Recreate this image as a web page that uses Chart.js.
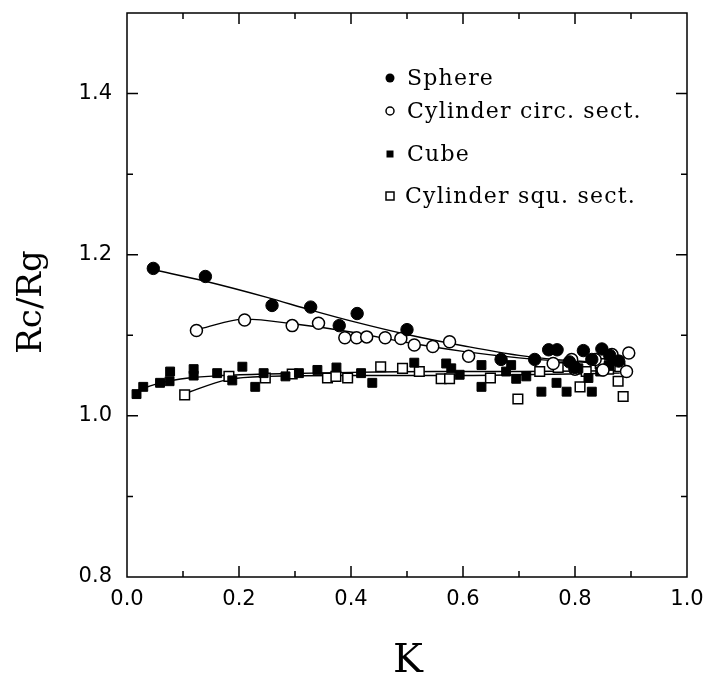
<!DOCTYPE html>
<html>
<head>
<meta charset="utf-8">
<script src="https://cdn.jsdelivr.net/npm/chart.js@4.4.1/dist/chart.umd.min.js"></script>
<style>
  body { margin: 0; background: #fff; }
  #wrap { width: 706px; height: 675px; }
</style>
</head>
<body>
<div id="wrap"><canvas id="myChart"></canvas></div>
<script>
// measured points, K vs Rc/Rg
var sphereK = [0.047, 0.140, 0.259, 0.328, 0.379, 0.411, 0.500, 0.668, 0.728, 0.753, 0.768, 0.790, 0.815, 0.830, 0.848, 0.862, 0.878, 0.800];
var sphereR = [1.183, 1.173, 1.137, 1.135, 1.112, 1.127, 1.107, 1.070, 1.070, 1.082, 1.082, 1.067, 1.081, 1.070, 1.083, 1.075, 1.068, 1.060];

var circK = [0.124, 0.210, 0.295, 0.342, 0.389, 0.410, 0.428, 0.461, 0.489, 0.513, 0.546, 0.576, 0.610, 0.761, 0.794, 0.800, 0.836, 0.850, 0.866, 0.892, 0.896];
var circR = [1.106, 1.119, 1.112, 1.115, 1.097, 1.097, 1.098, 1.097, 1.096, 1.088, 1.086, 1.092, 1.074, 1.065, 1.070, 1.058, 1.070, 1.057, 1.076, 1.055, 1.078];

var cubeK = [0.017, 0.029, 0.059, 0.076, 0.077, 0.119, 0.119, 0.161, 0.188, 0.206, 0.229, 0.244, 0.283, 0.307, 0.340, 0.374, 0.418, 0.438, 0.513, 0.570, 0.579, 0.594, 0.633, 0.633, 0.677, 0.686, 0.695, 0.713, 0.740, 0.767, 0.785, 0.806, 0.824, 0.830, 0.845, 0.860];
var cubeR = [1.027, 1.036, 1.041, 1.043, 1.055, 1.050, 1.058, 1.053, 1.044, 1.061, 1.036, 1.053, 1.049, 1.053, 1.057, 1.060, 1.053, 1.041, 1.066, 1.065, 1.059, 1.051, 1.063, 1.036, 1.055, 1.063, 1.046, 1.049, 1.030, 1.041, 1.030, 1.059, 1.047, 1.030, 1.055, 1.062];

var squK = [0.103, 0.182, 0.247, 0.295, 0.358, 0.373, 0.394, 0.453, 0.492, 0.522, 0.561, 0.576, 0.649, 0.698, 0.737, 0.770, 0.809, 0.820, 0.845, 0.860, 0.877, 0.880, 0.886];
var squR = [1.026, 1.049, 1.047, 1.052, 1.047, 1.049, 1.047, 1.061, 1.059, 1.055, 1.046, 1.046, 1.047, 1.021, 1.055, 1.060, 1.036, 1.055, 1.065, 1.058, 1.043, 1.061, 1.024];

// fitted curves
var sphereFitK = [0.05, 0.14, 0.25, 0.33, 0.41, 0.50, 0.60, 0.70, 0.80, 0.88];
var sphereFitR = [1.181, 1.167, 1.147, 1.131, 1.116, 1.101, 1.087, 1.075, 1.068, 1.066];
var circFitK = [0.13, 0.21, 0.30, 0.40, 0.50, 0.60, 0.70, 0.80, 0.89];
var circFitR = [1.108, 1.120, 1.114, 1.104, 1.091, 1.080, 1.072, 1.067, 1.064];
var cubeFitK = [0.02, 0.06, 0.11, 0.17, 0.25, 0.40, 0.55, 0.70, 0.88];
var cubeFitR = [1.032, 1.041, 1.047, 1.050, 1.052, 1.054, 1.055, 1.055, 1.056];
var squFitK = [0.10, 0.18, 0.25, 0.40, 0.55, 0.70, 0.88];
var squFitR = [1.027, 1.045, 1.049, 1.050, 1.050, 1.051, 1.053];

var legendLabels = ["Sphere", "Cylinder circ. sect.", "Cube", "Cylinder squ. sect."];

function pts(xs, ys) {
  return xs.map(function (k, i) { return { x: k, y: ys[i] }; });
}

function fitLine(xs, ys) {
  return {
    data: pts(xs, ys),
    showLine: true,
    pointRadius: 0,
    borderColor: "#000",
    borderWidth: 1.4,
    cubicInterpolationMode: "monotone",
    fill: false,
  };
}

function noPad(s) {
  s.paddingTop = 0;
  s.paddingBottom = 0;
  s.paddingLeft = 0;
  s.paddingRight = 0;
}

var frame = {
  id: "frame",
  afterDatasetsDraw: function (chart) {
    var ctx = chart.ctx;
    var a = chart.chartArea;
    var x = chart.scales.x;
    var y = chart.scales.y;
    ctx.save();
    ctx.strokeStyle = "#000";
    ctx.lineWidth = 1.5;
    ctx.strokeRect(a.left, a.top, a.right - a.left, a.bottom - a.top);

    ctx.beginPath();
    for (var i = 1; i < 10; i++) {
      var px = x.getPixelForValue(i / 10);
      var len = i % 2 === 0 ? 11 : 6;
      ctx.moveTo(px, a.bottom);
      ctx.lineTo(px, a.bottom - len);
      ctx.moveTo(px, a.top);
      ctx.lineTo(px, a.top + len);
    }
    for (var j = 9; j < 15; j++) {
      var py = y.getPixelForValue(j / 10);
      var l2 = j % 2 === 0 ? 11 : 6;
      ctx.moveTo(a.left, py);
      ctx.lineTo(a.left + l2, py);
      ctx.moveTo(a.right, py);
      ctx.lineTo(a.right - l2, py);
    }
    ctx.stroke();

    // axis titles
    ctx.fillStyle = "#000";
    ctx.font = "40px 'DejaVu Serif'";
    ctx.textAlign = "center";
    ctx.textBaseline = "alphabetic";
    ctx.fillText("K", (a.left + a.right) / 2 + 1, 672);

    ctx.save();
    ctx.translate(41, 302);
    ctx.rotate(-Math.PI / 2);
    ctx.font = "34px 'DejaVu Serif'";
    ctx.fillText("Rc/Rg", 0, 0);
    ctx.restore();

    // legend
    var rowsY = [78, 111, 154, 196];
    ctx.font = "22px 'DejaVu Serif'";
    ctx.textAlign = "left";
    ctx.textBaseline = "middle";
    ctx.letterSpacing = "1.2px";
    for (var r = 0; r < legendLabels.length; r++) {
      var ly = rowsY[r];
      var mx = 390;
      ctx.lineWidth = 1.5;
      ctx.beginPath();
      if (r === 0) {
        ctx.arc(mx, ly, 4.5, 0, Math.PI * 2);
        ctx.fill();
      } else if (r === 1) {
        ctx.arc(mx, ly, 4, 0, Math.PI * 2);
        ctx.stroke();
      } else if (r === 2) {
        ctx.fillRect(mx - 3.5, ly - 3.5, 7, 7);
      } else {
        ctx.strokeRect(mx - 4, ly - 4, 8, 8);
      }
      ctx.fillText(legendLabels[r], r === 3 ? 405 : 407, ly + 1);
    }
    ctx.restore();
  },
};

var ctx = document.getElementById("myChart").getContext("2d");
var chart = new Chart(ctx, {
  type: "scatter",
  data: {
    datasets: [
      {
        label: legendLabels[0],
        data: pts(sphereK, sphereR),
        pointStyle: "circle",
        pointRadius: 6.2,
        backgroundColor: "#000",
        borderColor: "#000",
        borderWidth: 1,
      },
      {
        label: legendLabels[1],
        data: pts(circK, circR),
        pointStyle: "circle",
        pointRadius: 6,
        backgroundColor: "#fff",
        borderColor: "#000",
        borderWidth: 1.5,
      },
      {
        label: legendLabels[2],
        data: pts(cubeK, cubeR),
        pointStyle: "rect",
        pointRadius: 6.3,
        backgroundColor: "#000",
        borderColor: "#000",
        borderWidth: 1,
      },
      {
        label: legendLabels[3],
        data: pts(squK, squR),
        pointStyle: "rect",
        pointRadius: 6.8,
        backgroundColor: "#fff",
        borderColor: "#000",
        borderWidth: 1.5,
      },
      fitLine(sphereFitK, sphereFitR),
      fitLine(circFitK, circFitR),
      fitLine(cubeFitK, cubeFitR),
      fitLine(squFitK, squFitR),
    ],
  },
  options: {
    responsive: true,
    maintainAspectRatio: false,
    animation: false,
    layout: { padding: { left: 0, right: 19, top: 13, bottom: 0 } },
    plugins: {
      legend: { display: false },
      tooltip: { enabled: false },
    },
    scales: {
      x: {
        type: "linear",
        min: 0,
        max: 1,
        grid: { display: false, drawTicks: false },
        border: { display: false },
        ticks: {
          stepSize: 0.2,
          padding: 10,
          color: "#000",
          font: { family: "'DejaVu Sans'", size: 21 },
          callback: function (v) { return v.toFixed(1); },
        },
        afterFit: function (s) { s.height = 98; noPad(s); },
      },
      y: {
        type: "linear",
        min: 0.8,
        max: 1.5,
        grid: { display: false, drawTicks: false },
        border: { display: false },
        ticks: {
          stepSize: 0.2,
          includeBounds: false,
          padding: 15,
          color: "#000",
          font: { family: "'DejaVu Sans'", size: 21 },
          callback: function (v) { return v.toFixed(1); },
        },
        afterFit: function (s) { s.width = 127; noPad(s); },
      },
    },
  },
  plugins: [frame],
});
</script>
</body>
</html>
